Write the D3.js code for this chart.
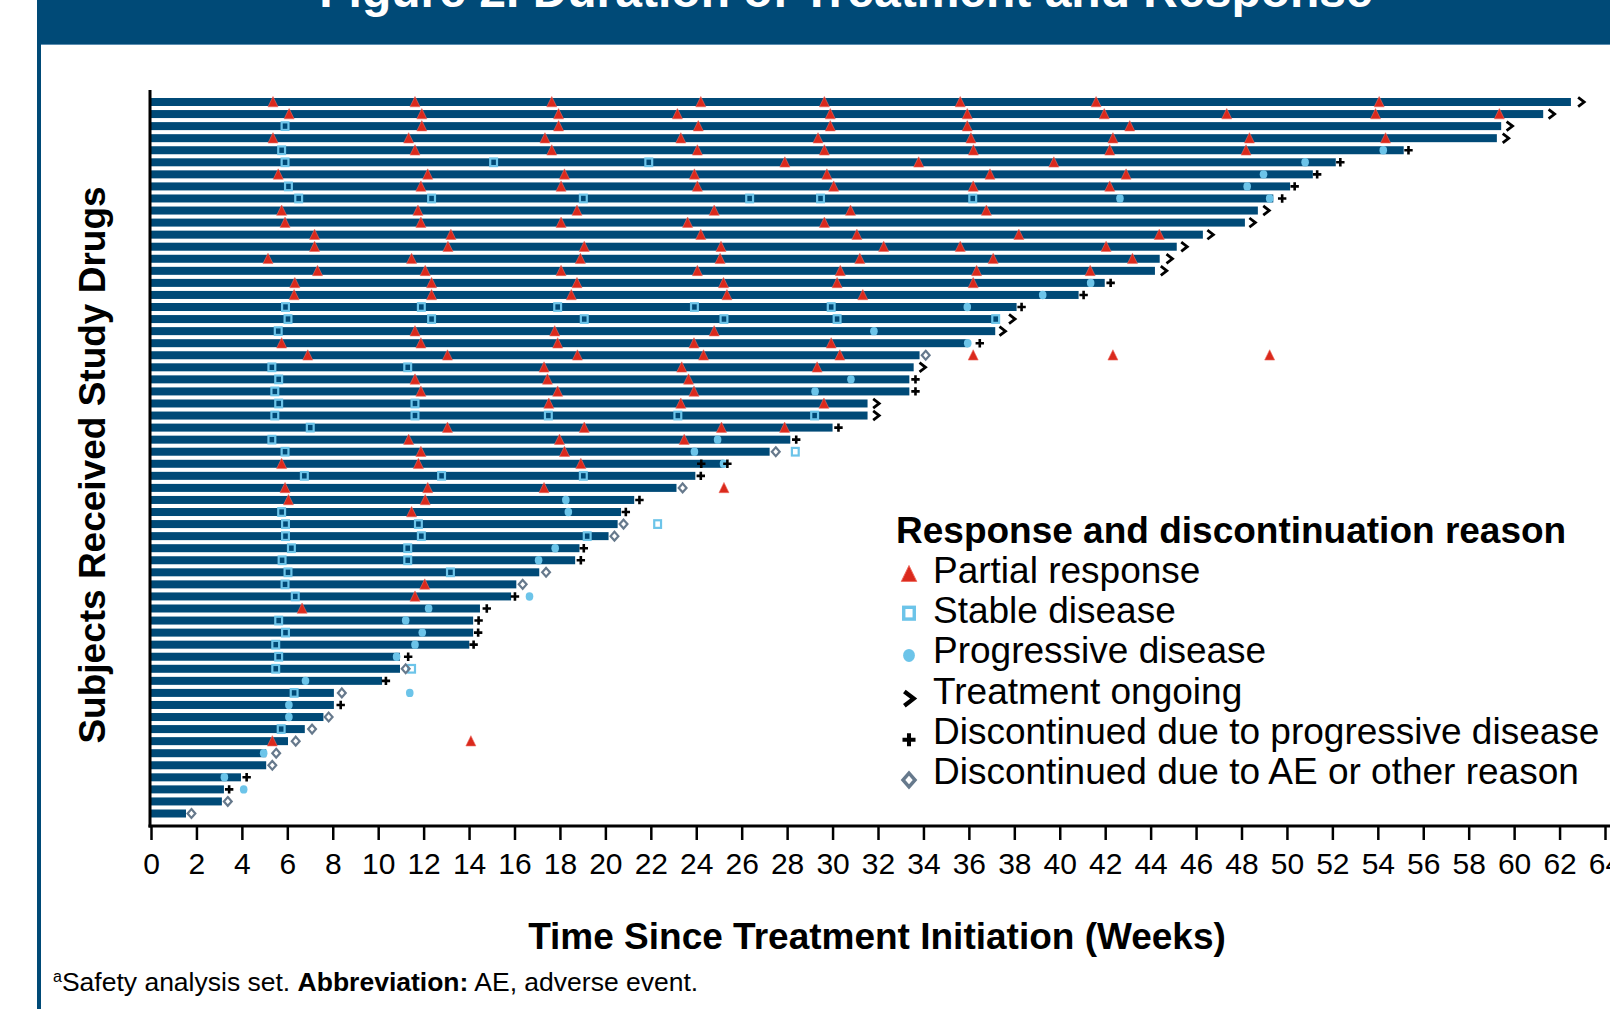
<!DOCTYPE html>
<html lang="en">
<head>
<meta charset="UTF-8">
<title>Figure 2. Duration of Treatment and Response</title>
<style>
  body { margin: 0; background: #fff; }
  svg { display: block; font-family: Arial, "Liberation Sans", sans-serif; }
</style>
</head>
<body>
<div id="chart"></div>
<script src="https://d3js.org/d3.v7.min.js"></script>
<script>
// one row per subject, top row first; all values are weeks since treatment start
const durations = [
  62.5, 61.28, 59.43, 59.24, 55.14, 52.15, 51.14, 50.14, 49.4, 48.72,
  48.15, 46.3, 45.15, 44.4, 44.19, 41.98, 40.83, 38.1, 37.36, 37.16,
  35.97, 33.83, 33.57, 33.38, 33.38, 31.54, 31.54, 30.0, 28.14, 27.23,
  25.2, 23.96, 23.13, 21.27, 20.69, 20.54, 20.14, 18.86, 18.67, 17.09,
  16.08, 15.85, 14.48, 14.18, 14.18, 14.01, 10.96, 10.96, 10.17, 8.05,
  8.05, 7.59, 6.77, 6.03, 5.07, 5.07, 3.96, 3.21, 3.12, 1.54
];

const partialResponse = [
  [5.37, 11.62, 17.64, 24.2, 29.64, 35.62, 41.6, 54.06],
  [6.08, 11.92, 17.94, 23.17, 29.9, 35.93, 41.96, 47.35, 53.9, 59.35],
  [11.92, 17.94, 24.09, 29.9, 35.93, 43.08],
  [5.37, 11.34, 17.34, 23.32, 29.36, 36.09, 42.34, 48.35, 54.34],
  [11.62, 17.64, 24.05, 29.64, 36.2, 42.2, 48.2],
  [27.9, 33.79, 39.74],
  [5.6, 12.18, 18.2, 23.92, 29.75, 36.93, 42.92],
  [11.88, 18.05, 24.05, 30.05, 36.19, 42.2],
  [],
  [5.75, 11.75, 18.75, 24.79, 30.79, 36.77],
  [5.9, 11.88, 18.05, 23.62, 29.64],
  [7.2, 13.2, 24.2, 31.07, 38.2, 44.38],
  [7.2, 13.07, 19.07, 25.09, 32.25, 35.62, 42.04],
  [5.15, 11.47, 18.9, 25.05, 31.2, 37.07, 43.2],
  [7.33, 12.07, 18.05, 24.05, 30.34, 36.34, 41.34],
  [6.33, 12.35, 18.75, 25.2, 30.2, 36.19],
  [6.3, 12.35, 18.5, 25.35, 31.33],
  [], [],
  [11.62, 17.77, 24.79],
  [5.75, 11.88, 17.9, 23.9, 29.94],
  [6.9, 13.05, 18.77, 24.32, 30.32, 36.19, 42.34, 49.24],
  [17.3, 23.36, 29.32],
  [11.62, 17.45, 23.66],
  [11.88, 17.9, 23.9],
  [17.51, 23.32, 29.62],
  [],
  [13.05, 19.07, 25.11, 27.89],
  [11.34, 17.98, 23.47],
  [11.88, 18.2],
  [5.75, 11.77, 18.92],
  [],
  [5.9, 12.18, 17.3, 25.22],
  [6.05, 12.07],
  [11.47],
  [], [], [], [], [],
  [12.05],
  [11.62],
  [6.65],
  [], [], [], [], [], [], [], [], [], [],
  [5.34, 14.08],
  [], [], [], [], [], []
];

const stableDisease = [
  [], [], [5.9], [], [5.75], [5.9, 15.08, 21.91], [], [6.05],
  [6.5, 12.35, 19.03, 26.35, 29.47, 36.17],
  [], [], [], [], [], [], [], [],
  [5.92, 11.9, 17.9, 23.92, 29.94],
  [6.03, 12.35, 19.07, 25.22, 30.2, 37.18],
  [5.6], [], [],
  [5.32, 11.3], [5.62], [5.45], [5.62, 11.62],
  [5.45, 11.62, 17.49, 23.19, 29.21],
  [7.01], [5.32], [5.9, 28.36],
  [], [6.75, 12.79, 19.03], [], [], [5.75],
  [5.92, 11.77, 22.3], [5.92, 11.9, 19.2], [6.18, 11.3], [5.77, 11.3], [6.03, 13.18],
  [5.9], [6.35], [], [5.62], [5.92], [5.49], [5.62], [5.49, 11.47], [], [6.3],
  [], [], [5.73], [], [], [], [], [], [], []
];

const progressiveDisease = [
  [], [], [], [], [54.24], [50.8], [48.97], [48.25], [42.65, 49.24], [],
  [], [], [], [], [], [41.36], [39.25], [35.93], [], [31.82],
  [35.95], [], [], [30.81], [29.23], [], [], [], [24.94], [23.92],
  [25.2], [], [], [18.26], [18.37], [], [], [17.79], [17.06], [],
  [], [16.66], [12.22], [11.21], [11.94], [11.62], [10.81], [], [6.8], [11.39],
  [6.07], [6.07], [], [], [4.96], [], [3.23], [4.08], [], []
];

// end-of-bar symbols
const ongoing = [
  [62.95], [61.65], [59.8], [59.63], [], [], [], [], [], [49.09],
  [48.48], [46.63], [45.48], [44.83], [44.58], [], [], [], [37.9], [37.48],
  [], [], [33.96], [], [], [31.92], [31.92], [], [], [],
  [], [], [], [], [], [], [], [], [], [],
  [], [], [], [], [], [], [], [], [], [],
  [], [], [], [], [], [], [], [], [], []
];

const discPD = [
  [], [], [], [], [55.35], [52.35], [51.33], [50.34], [49.79], [],
  [], [], [], [], [], [42.24], [41.05], [38.32], [], [],
  [36.48], [], [], [33.65], [33.65], [], [], [30.26], [28.4], [],
  [24.22, 25.37], [24.2], [], [21.5], [20.9], [], [], [19.05], [18.92], [],
  [], [16.02], [14.78], [14.42], [14.4], [14.2], [11.32], [], [10.34], [],
  [8.35], [], [], [], [], [], [4.21], [3.44], [], []
];

const discAE = [
  [], [], [], [], [], [], [], [], [], [],
  [], [], [], [], [], [], [], [], [], [],
  [], [34.1], [], [], [], [], [], [], [], [27.5],
  [], [], [23.4], [], [], [20.8], [20.4], [], [], [17.39],
  [16.36], [], [], [], [], [], [], [11.21], [], [8.4],
  [], [7.82], [7.09], [6.37], [5.51], [5.34], [], [], [3.38], [1.78]
];

const xTicks = d3.range(0, 65, 2);

const legendLabels = [
  ["pr", "Partial response"],
  ["sd", "Stable disease"],
  ["pd", "Progressive disease"],
  ["ongoing", "Treatment ongoing"],
  ["discPD", "Discontinued due to progressive disease"],
  ["discAE", "Discontinued due to AE or other reason"]
];

const navy = "#004a77";
const red = "#da291c";
const lightBlue = "#6cc4e9";
const grey = "#66798c";

const W = 1610, H = 1009;
const svg = d3.select("#chart").append("svg").attr("width", W).attr("height", H);

// header band and left rule
svg.append("rect").attr("x", 38).attr("y", 0).attr("width", W - 38).attr("height", 44).attr("fill", navy);
svg.append("line").attr("x1", 41).attr("x2", W).attr("y1", 44.5).attr("y2", 44.5)
  .attr("stroke", "#5b8db0").attr("stroke-width", 1.2);
svg.append("rect").attr("x", 37).attr("y", 0).attr("width", 4).attr("height", H).attr("fill", navy);
svg.append("text")
  .attr("x", 846).attr("y", 7)
  .attr("text-anchor", "middle").attr("fill", "#fff")
  .attr("font-weight", "bold").attr("font-size", 48)
  .text("Figure 2. Duration of Treatment and Response");

// scales
const rows = d3.range(durations.length);
const x = d3.scaleLinear().domain([0, 64]).range([151, 1605]);
const y = d3.scalePoint().domain(rows).range([102, 813.5]);
const barH = 8;

// marker shapes, centred on (0,0)
function drawMarker(g, type) {
  if (type === "pr") {
    g.append("path").attr("d", "M0,-5.5L5,4.8L-5,4.8Z").attr("fill", red)
      .attr("stroke", "#ef6a5f").attr("stroke-width", 0.6);
  } else if (type === "sd") {
    g.append("rect").attr("x", -3.4).attr("y", -3.8).attr("width", 6.8).attr("height", 7.6)
      .attr("fill", "none").attr("stroke", lightBlue).attr("stroke-width", 2.2);
  } else if (type === "pd") {
    g.append("ellipse").attr("rx", 3.8).attr("ry", 4.2).attr("fill", lightBlue);
  } else if (type === "ongoing") {
    g.append("path").attr("d", "M-3,-4.6L3,0L-3,4.6").attr("fill", "none")
      .attr("stroke", "#000").attr("stroke-width", 2.8);
  } else if (type === "discPD") {
    g.append("path").attr("d", "M-4.2,0H4.2M0,-4.2V4.2").attr("stroke", "#000").attr("stroke-width", 2.6);
  } else if (type === "discAE") {
    g.append("path").attr("d", "M0,-4.4L3.9,0L0,4.4L-3.9,0Z").attr("fill", "none")
      .attr("stroke", grey).attr("stroke-width", 2.2);
  }
}

// bars
const plot = svg.append("g");
plot.selectAll("rect.bar")
  .data(rows)
  .enter().append("rect")
  .attr("class", "bar")
  .attr("x", x(0))
  .attr("y", i => y(i) - barH / 2)
  .attr("width", i => x(durations[i]) - x(0))
  .attr("height", barH)
  .attr("fill", navy);

// flatten a per-row series into points
function points(series) {
  return series.flatMap((weeks, i) => weeks.map(w => ({ row: i, week: w })));
}

const layers = [
  ["sd", stableDisease],
  ["pd", progressiveDisease],
  ["pr", partialResponse],
  ["ongoing", ongoing],
  ["discPD", discPD],
  ["discAE", discAE]
];

layers.forEach(([type, series]) => {
  plot.selectAll(`g.m-${type}`)
    .data(points(series))
    .enter().append("g")
    .attr("class", `m-${type}`)
    .attr("transform", d => `translate(${x(d.week)},${y(d.row)})`)
    .each(function () { drawMarker(d3.select(this), type); });
});

// axes
const xAxis = svg.append("g")
  .attr("transform", "translate(0,826)")
  .call(d3.axisBottom(x).tickValues(xTicks).tickSize(14).tickSizeOuter(0).tickPadding(13));
xAxis.select(".domain").remove();
xAxis.selectAll(".tick line").attr("stroke", "#000").attr("stroke-width", 2.5);
xAxis.selectAll(".tick text").attr("font-size", 30).attr("font-family", "Arial, 'Liberation Sans', sans-serif").attr("fill", "#000");

svg.append("line").attr("x1", 148.5).attr("x2", W).attr("y1", 826).attr("y2", 826)
  .attr("stroke", "#000").attr("stroke-width", 3);
svg.append("line").attr("x1", 150).attr("x2", 150).attr("y1", 90).attr("y2", 827.5)
  .attr("stroke", "#000").attr("stroke-width", 3);

svg.append("text")
  .attr("x", 877).attr("y", 949)
  .attr("text-anchor", "middle").attr("font-weight", "bold").attr("font-size", 37)
  .text("Time Since Treatment Initiation (Weeks)");

svg.append("text")
  .attr("transform", "translate(105,465) rotate(-90)")
  .attr("text-anchor", "middle").attr("font-weight", "bold").attr("font-size", 37)
  .text("Subjects Received Study Drugs");

// legend
const legend = svg.append("g");
legend.append("text").attr("x", 896).attr("y", 543)
  .attr("font-weight", "bold").attr("font-size", 37)
  .text("Response and discontinuation reason");

const symbolLift = [9, 10, 8, 5, 4, 4];
legendLabels.forEach(([type, label], i) => {
  const base = 583 + i * 40.2;
  const g = legend.append("g").attr("transform", `translate(909,${base - symbolLift[i]}) scale(1.55)`);
  drawMarker(g, type);
  legend.append("text").attr("x", 933).attr("y", base).attr("font-size", 37).text(label);
});

// footnote
const foot = svg.append("text").attr("x", 53).attr("y", 991).attr("font-size", 26.5);
foot.append("tspan").attr("font-size", 16).attr("dy", -9).text("a");
foot.append("tspan").attr("dy", 9).text("Safety analysis set. ");
foot.append("tspan").attr("font-weight", "bold").text("Abbreviation:");
foot.append("tspan").text(" AE, adverse event.");
</script>
</body>
</html>
